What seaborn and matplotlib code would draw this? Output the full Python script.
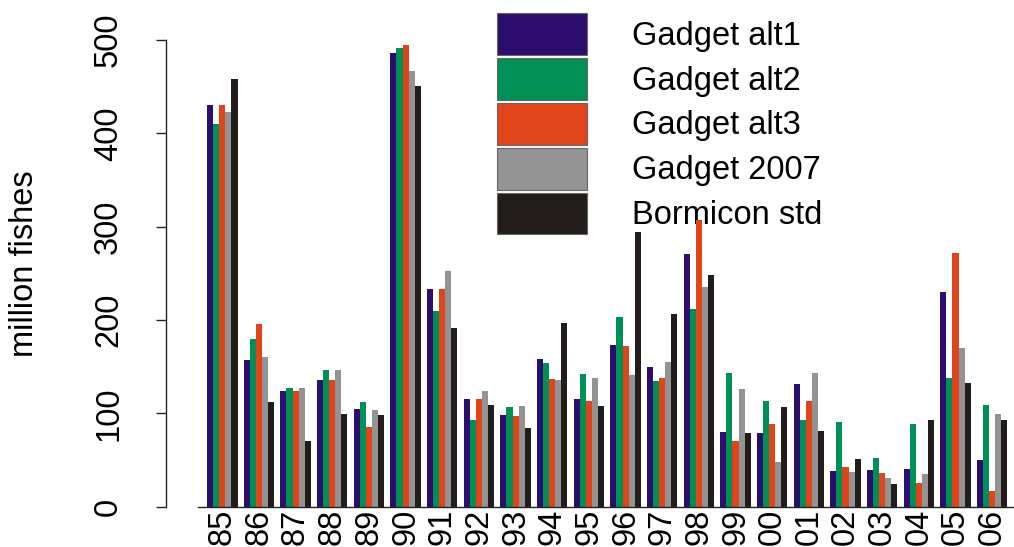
import matplotlib
matplotlib.use("Agg")
import matplotlib.pyplot as plt
import seaborn as sns
import pandas as pd

years = ["85", "86", "87", "88", "89", "90", "91", "92", "93", "94", "95",
         "96", "97", "98", "99", "00", "01", "02", "03", "04", "05", "06"]
models = ["Gadget alt1", "Gadget alt2", "Gadget alt3", "Gadget 2007", "Bormicon std"]
alt1 = [430, 157, 124, 136, 105, 486, 233, 115, 98, 158, 115, 173, 150, 271, 80, 79, 131, 38, 39, 40, 230, 50]
alt2 = [410, 180, 127, 147, 112, 492, 210, 93, 107, 154, 142, 203, 135, 212, 143, 113, 93, 91, 52, 89, 138, 109]
alt3 = [430, 196, 124, 136, 85, 495, 233, 115, 97, 137, 113, 172, 138, 307, 70, 89, 113, 43, 36, 25, 272, 17]
g2007 = [423, 160, 127, 147, 104, 467, 253, 124, 108, 136, 138, 141, 155, 235, 126, 48, 143, 37, 31, 35, 170, 99]
borm = [458, 112, 70, 99, 98, 451, 191, 109, 84, 197, 108, 294, 207, 248, 79, 107, 81, 51, 24, 93, 133, 93]
yticks = [0, 100, 200, 300, 400, 500]
colors = ["#2b0e6e", "#009055", "#e0441a", "#939393", "#221c1a"]

series = [alt1, alt2, alt3, g2007, borm]
rows = []
for m, vals in zip(models, series):
    for y, v in zip(years, vals):
        rows.append({"year": y, "model": m, "value": v})
df = pd.DataFrame(rows)

sns.set_style("white")
plt.rcParams["font.family"] = ["Liberation Sans", "DejaVu Sans"]
plt.rcParams["text.color"] = "black"
FS = 23.5

W, H = 1014, 547
fig = plt.figure(figsize=(W / 100, H / 100), dpi=100)
ax_left, ax_bottom = 198 / W, (H - 506.7) / H
ax = fig.add_axes([ax_left, ax_bottom, 1 - ax_left, 1 - ax_bottom])

sns.barplot(data=df, x="year", y="value", hue="model", order=years,
            hue_order=models, palette=colors, saturation=1, width=0.83,
            linewidth=0, ax=ax, legend=True)

ax.set_xlim(-0.663, 21.596)
ax.set_ylim(0, 542.9)
ax.set_xlabel("")
ax.set_ylabel("million fishes", fontsize=FS, color="black")
ax.yaxis.set_label_coords(-0.1936, 0.479)

ax.set_yticks(yticks)
ax.set_yticklabels([str(t) for t in yticks])
ax.tick_params(axis="y", which="both", left=True, length=7.2, width=1.0,
               color="#222222", pad=23, labelsize=FS, labelcolor="black",
               labelrotation=90)
ax.tick_params(axis="x", which="both", bottom=False, length=0, pad=1.5,
               labelsize=FS, labelcolor="black", labelrotation=90)

for s in ["top", "right"]:
    ax.spines[s].set_visible(False)
ax.spines["left"].set_position(("outward", 23))
ax.spines["left"].set_bounds(0, 500)
ax.spines["left"].set_linewidth(1.0)
ax.spines["left"].set_color("#222222")
ax.spines["bottom"].set_linewidth(1.0)
ax.spines["bottom"].set_color("#222222")
ax.grid(False)

sns.move_legend(ax, loc="upper left", bbox_to_anchor=(497 / W, 1 - 13 / H),
                bbox_transform=fig.transFigure, frameon=False, title=None,
                fontsize=FS, handlelength=2.76, handleheight=1.6,
                labelspacing=0.09, handletextpad=1.38, borderpad=0,
                borderaxespad=0)
leg = ax.get_legend()
for p in leg.get_patches():
    p.set_edgecolor("#666666")
    p.set_linewidth(0.8)
for t in leg.get_texts():
    t.set_color("black")
leg.set_zorder(0.5)

for lab in ax.get_yticklabels():
    lab.set_rotation(90)
    lab.set_va("center")
    lab.set_ha("right")
for lab in ax.get_xticklabels():
    lab.set_va("top")
    lab.set_ha("center")

fig.savefig("out.png", dpi=100)
